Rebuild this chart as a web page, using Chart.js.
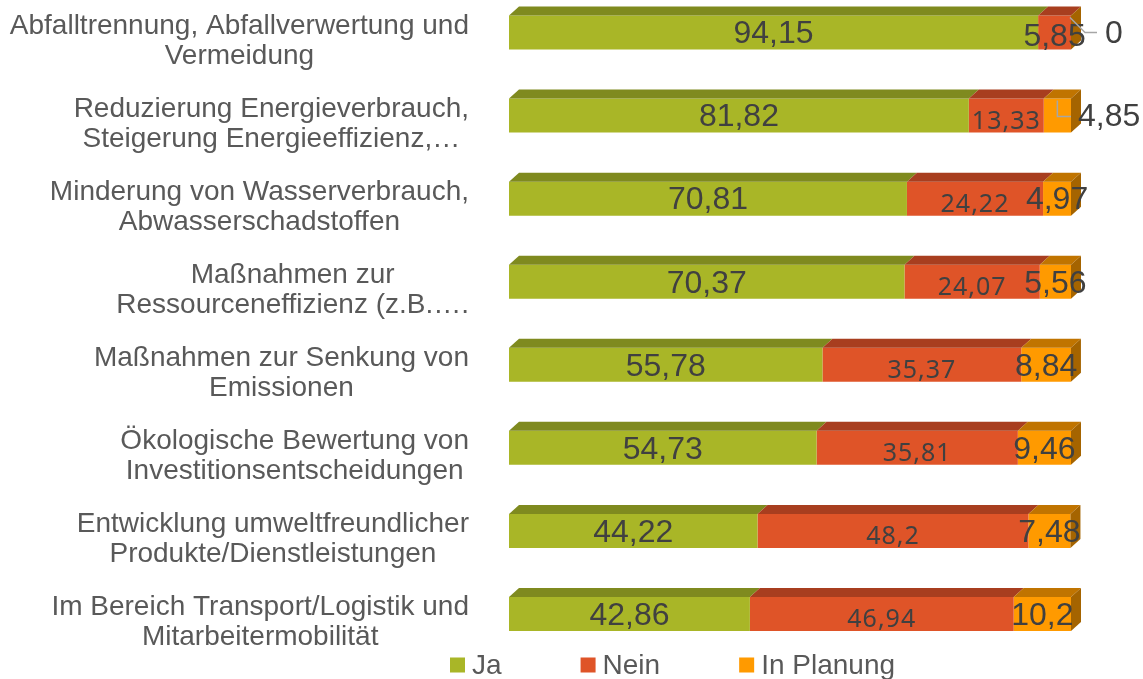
<!DOCTYPE html>
<html lang="de">
<head>
    <meta charset="UTF-8">
    <title>Umweltmaßnahmen</title>
    <script src="https://cdn.jsdelivr.net/npm/chart.js"></script>
    <style>
        body { margin: 0; background: #FFFFFF; overflow: hidden; }
        /* Diagrammfläche beginnt oberhalb des Fensters, daher leicht nach oben verschoben */
        .chart-box { position: relative; width: 1143px; height: 688px; margin-top: -9px; }
    </style>
</head>
<body>
    <div class="chart-box">
        <canvas id="massnahmenChart"></canvas>
    </div>

    <script>
        // Kategorien (zweizeilig wie im Original)
        const categories = [
            ['Abfalltrennung, Abfallverwertung und', 'Vermeidung'],
            ['Reduzierung Energieverbrauch,', 'Steigerung Energieeffizienz,…'],
            ['Minderung von Wasserverbrauch,', 'Abwasserschadstoffen'],
            ['Maßnahmen zur', 'Ressourceneffizienz (z.B.….'],
            ['Maßnahmen zur Senkung von', 'Emissionen'],
            ['Ökologische Bewertung von', 'Investitionsentscheidungen'],
            ['Entwicklung umweltfreundlicher', 'Produkte/Dienstleistungen'],
            ['Im Bereich Transport/Logistik und', 'Mitarbeitermobilität']
        ];
        const seriesNames = ['Ja', 'Nein', 'In Planung'];
        const jaValues = [94.15, 81.82, 70.81, 70.37, 55.78, 54.73, 44.22, 42.86];
        const neinValues = [5.85, 13.33, 24.22, 24.07, 35.37, 35.81, 48.2, 46.94];
        const planungValues = [0, 4.85, 4.97, 5.56, 8.84, 9.46, 7.48, 10.2];

        // Farben: Vorderseite, Oberseite, Seitenfläche
        const frontColors = ['#A9B627', '#DF5428', '#FF9A00'];
        const topColors = ['#7F8A1F', '#A83E1F', '#C07400'];
        const sideColors = ['#6F7A1A', '#8E3419', '#A56400'];

        const DEPTH_X = 10, DEPTH_Y = 9;
        const labelColor = '#595959';
        const valueColor = '#404040';

        function fmt(v) { return String(v).replace('.', ','); }

        const bars3d = {
            id: 'bars3d',
            afterDatasetsDraw(chart) {
                const ctx = chart.ctx;
                const lastIdx = chart.data.datasets.length - 1;
                ctx.save();
                chart.data.datasets.forEach((ds, di) => {
                    chart.getDatasetMeta(di).data.forEach((bar) => {
                        const p = bar.getProps(['x', 'y', 'base', 'height'], true);
                        const top = p.y - p.height / 2, bottom = p.y + p.height / 2;
                        const x0 = Math.min(p.base, p.x), x1 = Math.max(p.base, p.x);
                        // Oberseite
                        ctx.fillStyle = topColors[di];
                        ctx.beginPath();
                        ctx.moveTo(x0, top);
                        ctx.lineTo(x0 + DEPTH_X, top - DEPTH_Y);
                        ctx.lineTo(x1 + DEPTH_X, top - DEPTH_Y);
                        ctx.lineTo(x1, top);
                        ctx.closePath();
                        ctx.fill();
                        // Seitenfläche am Ende des Stapels
                        if (di === lastIdx) {
                            ctx.fillStyle = sideColors[di];
                            ctx.beginPath();
                            ctx.moveTo(x1, top);
                            ctx.lineTo(x1 + DEPTH_X, top - DEPTH_Y);
                            ctx.lineTo(x1 + DEPTH_X, bottom - DEPTH_Y);
                            ctx.lineTo(x1, bottom);
                            ctx.closePath();
                            ctx.fill();
                        }
                    });
                });

                // Datenbeschriftungen
                chart.data.datasets.forEach((ds, di) => {
                    chart.getDatasetMeta(di).data.forEach((bar, i) => {
                        const v = ds.data[i];
                        const p = bar.getProps(['x', 'y', 'base', 'height'], true);
                        const x1 = Math.max(p.base, p.x);
                        const cx = (p.base + p.x) / 2;
                        const top = p.y - p.height / 2;
                        ctx.fillStyle = valueColor;
                        ctx.textBaseline = 'middle';
                        ctx.letterSpacing = '0px';
                        if (di === 1 && (p.x - p.base) > 60) {
                            ctx.font = '25px "Noto Sans"';
                            ctx.letterSpacing = '1px';
                            ctx.textAlign = 'center';
                            ctx.fillText(fmt(v), cx, p.y + 6);
                        } else if (di === lastIdx && v < 4.9) {
                            ctx.strokeStyle = '#A6A6A6';
                            ctx.lineWidth = 1.5;
                            ctx.beginPath();
                            if (v === 0) {
                                ctx.moveTo(x1 - 1, top + 2);
                                ctx.lineTo(x1 + 14, p.y);
                                ctx.lineTo(x1 + 26, p.y);
                                ctx.stroke();
                                ctx.font = '32px "Liberation Sans"';
                                ctx.textAlign = 'left';
                                ctx.fillText(fmt(v), x1 + 34, p.y + 2);
                            } else {
                                ctx.moveTo(cx, top + 2);
                                ctx.lineTo(cx, p.y + 1);
                                ctx.lineTo(x1, p.y + 1);
                                ctx.stroke();
                                ctx.font = '32px "Liberation Sans"';
                                ctx.textAlign = 'left';
                                ctx.fillText(fmt(v), x1 + 7, p.y + 2);
                            }
                        } else {
                            ctx.font = '32px "Liberation Sans"';
                            ctx.textAlign = 'center';
                            ctx.fillText(fmt(v), cx, p.y + (di === 1 ? 5 : 2));
                        }
                    });
                });
                ctx.restore();
            },
            afterDraw(chart) {
                const ctx = chart.ctx;
                const yScale = chart.scales.y;
                const area = chart.chartArea;
                ctx.save();
                // Kategorienbeschriftung: Block rechtsbündig, Zeilen zentriert
                ctx.font = '28px "Liberation Sans"';
                ctx.fillStyle = labelColor;
                ctx.textAlign = 'center';
                ctx.textBaseline = 'alphabetic';
                const right = area.left - 40;
                chart.data.labels.forEach((lines, i) => {
                    const y = yScale.getPixelForValue(i);
                    const w = Math.max(...lines.map(l => ctx.measureText(l).width));
                    const cx = right - w / 2;
                    lines.forEach((l, k) => ctx.fillText(l, cx, y + 1 + k * 30));
                });
                // Legende
                let lx = 450;
                const ly = area.bottom + 9;
                ctx.textAlign = 'left';
                ctx.textBaseline = 'middle';
                chart.data.datasets.forEach((ds, di) => {
                    ctx.fillStyle = frontColors[di];
                    ctx.fillRect(lx, ly - 7, 15, 15);
                    ctx.fillStyle = labelColor;
                    ctx.fillText(ds.label, lx + 22, ly + 2);
                    lx += 22 + ctx.measureText(ds.label).width + 79;
                });
                ctx.restore();
            }
        };

        new Chart(document.getElementById('massnahmenChart'), {
            type: 'bar',
            data: {
                labels: categories,
                datasets: [
                    { label: seriesNames[0], data: jaValues, backgroundColor: frontColors[0] },
                    { label: seriesNames[1], data: neinValues, backgroundColor: frontColors[1] },
                    { label: seriesNames[2], data: planungValues, backgroundColor: frontColors[2] }
                ]
            },
            options: {
                indexAxis: 'y',
                responsive: true, maintainAspectRatio: false,
                animation: false,
                barPercentage: 0.41, categoryPercentage: 1,
                scales: {
                    x: { stacked: true, min: 0, max: 100, display: false },
                    y: { stacked: true, display: false }
                },
                plugins: { legend: { display: false }, tooltip: { enabled: false } },
                layout: { padding: { left: 509, right: 72, top: 0, bottom: 23.5 } }
            },
            plugins: [bars3d]
        });
    </script>
</body>
</html>
